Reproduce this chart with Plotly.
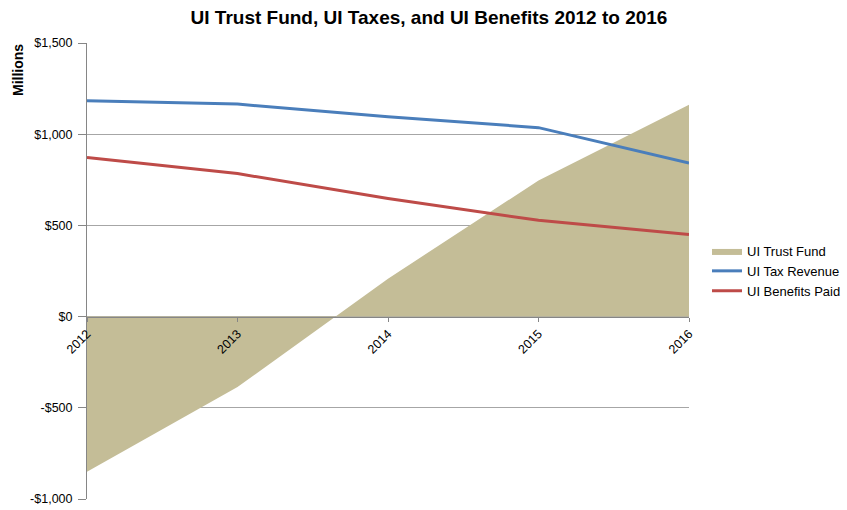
import plotly.graph_objects as go

# Fiscal years and series values (millions of dollars)
years = [2012, 2013, 2014, 2015, 2016]
trust_fund = [-850, -386, 208, 746, 1162]
tax_revenue = [1184, 1165, 1096, 1036, 842]
benefits_paid = [872, 784, 647, 528, 450]

y_tick_vals = [-1000, -500, 0, 500, 1000, 1500]
y_tick_text = ["-$1,000", "-$500", "$0", "$500", "$1,000", "$1,500"]

FONT = "Liberation Sans, Arial, sans-serif"

fig = go.Figure()

fig.add_trace(go.Scatter(
    x=years, y=trust_fund, name="UI Trust Fund",
    mode="lines", fill="tozeroy",
    fillcolor="#c4bd97", line=dict(color="#c4bd97", width=0),
))
fig.add_trace(go.Scatter(
    x=years, y=tax_revenue, name="UI Tax Revenue",
    mode="lines", line=dict(color="#4a7ebb", width=3),
))
fig.add_trace(go.Scatter(
    x=years, y=benefits_paid, name="UI Benefits Paid",
    mode="lines", line=dict(color="#be4b48", width=3),
))

y_min, y_max = -1000, 1500
zero_pos = (0 - y_min) / (y_max - y_min)

fig.update_layout(
    width=847, height=510,
    margin=dict(l=87, r=158, t=43, b=11, autoexpand=False),
    paper_bgcolor="white", plot_bgcolor="white",
    font=dict(family=FONT, size=12, color="#000000"),
    title=dict(
        text="<b>UI Trust Fund, UI Taxes, and UI Benefits 2012 to 2016</b>",
        x=429 / 847, xref="container", xanchor="center",
        y=1 - 17 / 510, yref="container", yanchor="middle",
        font=dict(family=FONT, size=19, color="#000000"),
    ),
    xaxis=dict(
        range=[2012, 2016], tickvals=years, ticktext=[str(y) for y in years],
        tickangle=-45, showgrid=False, zeroline=False, automargin=False,
        showline=True, linecolor="#868686", linewidth=1,
        ticks="outside", ticklen=4, tickcolor="#868686",
        anchor="free", position=zero_pos,
        tickfont=dict(family=FONT, size=12.5, color="#000000"),
    ),
    yaxis=dict(
        range=[y_min, y_max], tickvals=y_tick_vals, ticktext=y_tick_text,
        showgrid=True, gridcolor="#a6a6a6", gridwidth=1,
        zeroline=False, automargin=False,
        showline=True, linecolor="#868686", linewidth=1,
        ticks="outside", ticklen=8, tickcolor="#868686",
        ticklabelstandoff=3,
        tickfont=dict(family=FONT, size=12.5, color="#000000"),
    ),
    legend=dict(
        xref="container", yref="container",
        x=707 / 847, xanchor="left", y=1 - 271 / 510, yanchor="middle",
        font=dict(family=FONT, size=13, color="#000000"),
        bgcolor="rgba(0,0,0,0)", tracegroupgap=0,
    ),
    annotations=[dict(
        text="<b>Millions</b>", textangle=-90,
        xref="paper", yref="paper", x=(18 - 87) / 602, y=(499 - 70) / 456,
        xanchor="center", yanchor="middle", showarrow=False,
        font=dict(family=FONT, size=14, color="#000000"),
    )],
)

fig.write_html("out.html")
